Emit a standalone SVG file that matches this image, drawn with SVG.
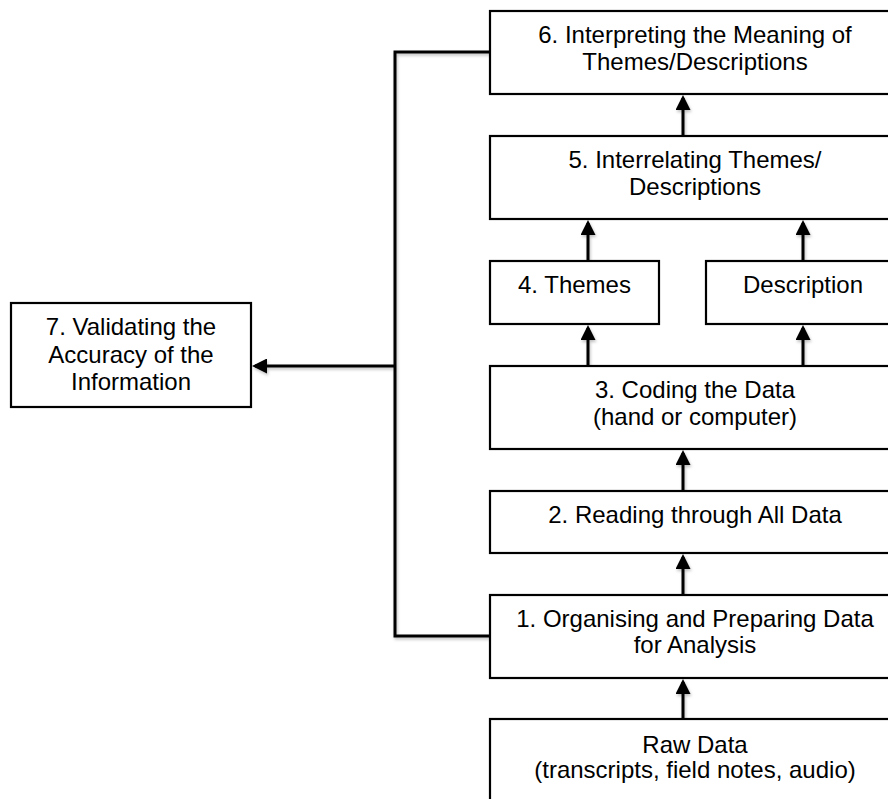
<svg xmlns="http://www.w3.org/2000/svg" width="888" height="799" viewBox="0 0 888 799">
<style>
.box{fill:#fff;stroke:#000;stroke-width:2.2}
.t{font-family:"Liberation Sans",Arial,sans-serif;font-size:24px;fill:#000;text-anchor:middle}
.c{fill:none;stroke:#000;stroke-width:3}
</style>
<defs>
<marker id="ah" markerWidth="5" markerHeight="5" refX="4" refY="2.5" orient="auto" markerUnits="strokeWidth">
<path d="M0,0 L5,2.5 L0,5 Z" fill="#000"/>
</marker>
<filter id="sh" x="-10%" y="-10%" width="120%" height="130%">
<feDropShadow dx="1" dy="2" stdDeviation="1.5" flood-color="#000" flood-opacity="0.25"/>
</filter>
</defs>
<rect width="888" height="799" fill="#fff"/>
<g id="connectors" filter="url(#sh)">
<path class="c" d="M490,52 H395 V636 H490"/>
<path class="c" d="M395,366 H255" marker-end="url(#ah)"/>
<path class="c" d="M683,136 V98" marker-end="url(#ah)"/>
<path class="c" d="M588,261 V223" marker-end="url(#ah)"/>
<path class="c" d="M803,261 V223" marker-end="url(#ah)"/>
<path class="c" d="M588,366 V328" marker-end="url(#ah)"/>
<path class="c" d="M803,366 V328" marker-end="url(#ah)"/>
<path class="c" d="M683,491 V453" marker-end="url(#ah)"/>
<path class="c" d="M683,595 V557" marker-end="url(#ah)"/>
<path class="c" d="M683,719 V682" marker-end="url(#ah)"/>
</g>
<g id="n6"><rect class="box" x="490" y="11" width="410" height="83"/>
<text class="t" x="695" y="43">6. Interpreting the Meaning of</text><text class="t" x="695" y="70">Themes/Descriptions</text></g>
<g id="n5"><rect class="box" x="490" y="136" width="410" height="83"/>
<text class="t" x="695" y="168">5. Interrelating Themes/</text><text class="t" x="695" y="195">Descriptions</text></g>
<g id="n4"><rect class="box" x="490" y="261" width="169" height="63"/>
<text class="t" x="574.5" y="292.5">4. Themes</text></g>
<g id="nd"><rect class="box" x="706" y="261" width="194" height="63"/>
<text class="t" x="803" y="292.5">Description</text></g>
<g id="n3"><rect class="box" x="490" y="366" width="410" height="83"/>
<text class="t" x="695" y="397.5">3. Coding the Data</text><text class="t" x="695" y="425">(hand or computer)</text></g>
<g id="n2"><rect class="box" x="490" y="491" width="410" height="62"/>
<text class="t" x="695" y="522.5">2. Reading through All Data</text></g>
<g id="n1"><rect class="box" x="490" y="595" width="410" height="83"/>
<text class="t" x="695" y="626.5">1. Organising and Preparing Data</text><text class="t" x="695" y="653">for Analysis</text></g>
<g id="n0"><rect class="box" x="490" y="719" width="410" height="100"/>
<text class="t" x="695" y="752.5">Raw Data</text><text class="t" x="695" y="778">(transcripts, field notes, audio)</text></g>
<g id="n7"><rect class="box" x="11" y="303" width="240" height="104"/>
<text class="t" x="131" y="335">7. Validating the</text><text class="t" x="131" y="362.5">Accuracy of the</text><text class="t" x="131" y="390">Information</text></g>
</svg>
